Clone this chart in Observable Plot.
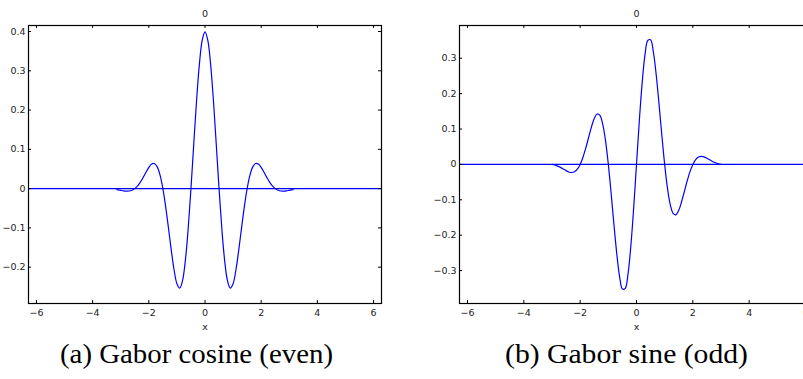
<!DOCTYPE html>
<html><head><meta charset="utf-8">
<script src="https://cdn.jsdelivr.net/npm/d3@7"></script>
<script src="https://cdn.jsdelivr.net/npm/@observablehq/plot@0.6"></script>
<style>
html,body{margin:0;padding:0;width:803px;height:379px;overflow:hidden;background:#fff;}
#wrap{position:relative;width:803px;height:379px;overflow:hidden;}
.panel{position:absolute;top:0;}
.panel svg{max-width:none !important;}
</style></head><body>
<div id="wrap">
<div id="pa" class="panel" style="left:0;width:400px"></div>
<div id="pb" class="panel" style="left:400px;width:430px"></div>
<div id="ca" style="position:absolute;top:341px;font-family:'Liberation Serif';font-size:27px;line-height:1;white-space:nowrap;transform-origin:left top;color:#000"></div>
<div id="cb" style="position:absolute;top:341px;font-family:'Liberation Serif';font-size:27px;line-height:1;white-space:nowrap;transform-origin:left top;color:#000"></div>
</div>
<script>
// Gabor cosine (even)
const cosX = [-3.14,-3.1,-3.0,-2.9,-2.8,-2.7,-2.6,-2.5,-2.4,-2.3,-2.2,-2.1,-2.0,-1.9,-1.8,-1.7,-1.6,-1.5,-1.4,-1.3,-1.2,-1.1,-1.0,-0.9,-0.8,-0.7,-0.6,-0.5,-0.4,-0.3,-0.2,-0.1,0,
  0.1,0.2,0.3,0.4,0.5,0.6,0.7,0.8,0.9,1.0,1.1,1.2,1.3,1.4,1.5,1.6,1.7,1.8,1.9,2.0,2.1,2.2,2.3,2.4,2.5,2.6,2.7,2.8,2.9,3.0,3.1,3.14];
const cosY = [-0.0026,-0.0031,-0.0044,-0.0057,-0.0064,-0.0061,-0.0042,0,0.0069,0.0167,0.0287,0.0418,0.0540,0.0624,0.0639,0.0553,0.0343,0,-0.0463,-0.1007,-0.1571,-0.2072,-0.2420,-0.2531,-0.2344,-0.1835,-0.1030,0,0.1138,0.2242,0.3164,0.3775,0.3989,
  0.3775,0.3164,0.2242,0.1138,0,-0.1030,-0.1835,-0.2344,-0.2531,-0.2420,-0.2072,-0.1571,-0.1007,-0.0463,0,0.0343,0.0553,0.0639,0.0624,0.0540,0.0418,0.0287,0.0167,0.0069,0,-0.0042,-0.0061,-0.0064,-0.0057,-0.0044,-0.0031,-0.0026];

// Gabor sine (odd)
const sinX = [-3.0,-2.9,-2.8,-2.7,-2.6,-2.5,-2.4,-2.3,-2.2,-2.1,-2.0,-1.9,-1.8,-1.7,-1.6,-1.5,-1.4,-1.3,-1.2,-1.1,-1.0,-0.9,-0.8,-0.7,-0.6,-0.5,-0.4,-0.3,-0.2,-0.1,0,
  0.1,0.2,0.3,0.4,0.5,0.6,0.7,0.8,0.9,1.0,1.1,1.2,1.3,1.4,1.5,1.6,1.7,1.8,1.9,2.0,2.1,2.2,2.3,2.4,2.5,2.6,2.7,2.8,2.9,3.0];
const sinY = [0,-0.0018,-0.0047,-0.0084,-0.0129,-0.0175,-0.0213,-0.0229,-0.0208,-0.0136,0,0.0203,0.0464,0.0761,0.1055,0.1295,0.1424,0.1386,0.1141,0.0673,0,-0.0822,-0.1703,-0.2526,-0.3169,-0.3521,-0.3502,-0.3086,-0.2298,-0.1227,0,
  0.1227,0.2298,0.3086,0.3502,0.3521,0.3169,0.2526,0.1703,0.0822,0,-0.0673,-0.1141,-0.1386,-0.1424,-0.1295,-0.1055,-0.0761,-0.0464,-0.0203,0,0.0136,0.0208,0.0229,0.0213,0.0175,0.0129,0.0084,0.0047,0.0018,0];

const xTicks = [-6,-4,-2,0,2,4,6];
const yTicksA = [-0.2,-0.1,0,0.1,0.2,0.3,0.4];
const yTicksB = [-0.3,-0.2,-0.1,0,0.1,0.2,0.3];
const yDomainA = [-0.2925, 0.4153];
const yDomainB = [-0.393, 0.3925];
const xDomain = [-2*Math.PI, 2*Math.PI];
const titleText = "0";
const xLabel = "x";
const captions = ["(a) Gabor cosine (even)", "(b) Gabor sine (odd)"];

const fmtY = d => d === 0 ? "0" : d.toFixed(1).replace("-", "\u2212");
const fmtX = d => String(d).replace("-", "\u2212");

function panel(el, {width, ml, mr, xv, yv, ydom, yticks}) {
  const H = 340, mt = 25, mb = 37;
  const fw = width - ml - mr, fh = H - mt - mb;
  const data = xv.map((x, i) => ({x, y: yv[i]}));
  const blue = "#0000ff";
  const p = Plot.plot({
    width, height: H, marginLeft: ml, marginRight: mr, marginTop: mt, marginBottom: mb,
    style: {fontFamily: "DejaVu Sans", fontSize: "9.5px", color: "#222", background: "transparent", overflow: "visible", maxWidth: "none"},
    x: {domain: xDomain},
    y: {domain: ydom},
    marks: [
      Plot.ruleY([0], {stroke: blue, strokeWidth: 1.2}),
      Plot.line(data, {x: "x", y: "y", stroke: blue, strokeWidth: 1.2, curve: "catmull-rom"}),
      Plot.frame({stroke: "#000", strokeWidth: 1.2}),
      Plot.tickX(xTicks, {x: d => d, insetTop: fh - 3, stroke: "#000"}),
      Plot.tickX(xTicks, {x: d => d, insetBottom: fh - 3, stroke: "#000"}),
      Plot.tickY(yticks, {y: d => d, insetRight: fw - 3, stroke: "#000"}),
      Plot.tickY(yticks, {y: d => d, insetLeft: fw - 3, stroke: "#000"}),
      Plot.axisX(xTicks, {tickSize: 0, tickPadding: 6, label: null, tickFormat: fmtX}),
      Plot.axisY(yticks, {tickSize: 0, tickPadding: 3, label: null, tickFormat: fmtY}),
      Plot.text([titleText], {frameAnchor: "top", dy: -12, lineAnchor: "middle"}),
      Plot.text([xLabel], {frameAnchor: "bottom", dy: 23, lineAnchor: "middle"})
    ]
  });
  el.appendChild(p);
}

panel(document.getElementById("pa"), {width: 400, ml: 28, mr: 19, xv: cosX, yv: cosY, ydom: yDomainA, yticks: yTicksA});
panel(document.getElementById("pb"), {width: 430, ml: 59, mr: 17, xv: sinX, yv: sinY, ydom: yDomainB, yticks: yTicksB});

const ca = document.getElementById("ca"), cb = document.getElementById("cb");
ca.textContent = captions[0]; cb.textContent = captions[1];
function fit(el, left, target) {
  const w = el.getBoundingClientRect().width;
  el.style.left = left + "px";
  el.style.transform = `scaleX(${target / w})`;
}
fit(ca, 60, 273);
fit(cb, 505, 243);
</script>
</body></html>
